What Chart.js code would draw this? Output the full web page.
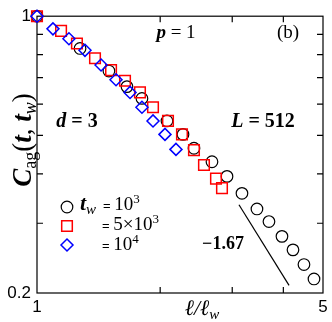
<!DOCTYPE html>
<html>
<head>
<meta charset="utf-8">
<script src="https://cdn.jsdelivr.net/npm/chart.js@4/dist/chart.umd.min.js"></script>
<style>
  html, body { margin: 0; padding: 0; background: #fff; }
</style>
</head>
<body>
<canvas id="myChart" width="332" height="322"></canvas>
<script>
// t_w = 10^3 (black circles)
const circX = [1, 1.274, 1.499, 1.659, 1.805, 2.078, 2.274, 2.419, 2.677, 2.913, 3.169, 3.448, 3.689, 3.969, 4.223, 4.492, 4.753];
const circY = [1, 0.829, 0.727, 0.664, 0.620, 0.544, 0.503, 0.464, 0.429, 0.394, 0.357, 0.326, 0.303, 0.278, 0.257, 0.236, 0.217];
// t_w = 5x10^3 (red squares)
const sqX = [1, 1.145, 1.252, 1.386, 1.517, 1.641, 1.785, 1.921, 2.090, 2.261, 2.419, 2.559, 2.738, 2.832];
const sqY = [1, 0.918, 0.853, 0.783, 0.731, 0.687, 0.642, 0.589, 0.544, 0.503, 0.459, 0.421, 0.389, 0.368];
// t_w = 10^4 (blue diamonds)
const dmX = [1, 1.094, 1.197, 1.310, 1.434, 1.560, 1.688, 1.805, 1.921, 2.055, 2.186];
const dmY = [1, 0.929, 0.877, 0.820, 0.753, 0.691, 0.642, 0.589, 0.544, 0.503, 0.461];
// guide line, slope -1.67
const slopeX = [3.116, 4.13];
const slopeY = [0.334, 0.209];

const xTicks = [1, 2, 3, 4, 5];
const xTickLabels = ['1', '', '', '', '5'];
const yTicks = [0.2, 0.3, 0.4, 0.5, 0.6, 0.7, 0.8, 0.9, 1];
const yTickLabels = ['0.2', '', '', '', '', '', '', '', '1'];

const pts = (xs, ys) => xs.map((v, i) => ({ x: v, y: ys[i] }));

const SERIF = '"Liberation Serif", "DejaVu Serif", serif';
const SANS = '"Liberation Sans", Arial, sans-serif';

function rich(ctx, parts, x, y, align) {
    let w = 0;
    parts.forEach(p => { ctx.font = p.f; p.w = ctx.measureText(p.t).width; w += p.w; });
    let cx = align === 'center' ? x - w / 2 : x;
    ctx.textAlign = 'left';
    ctx.textBaseline = 'alphabetic';
    parts.forEach(p => { ctx.font = p.f; ctx.fillText(p.t, cx, y + (p.dy || 0)); cx += p.w; });
}

function marker(ctx, style, r, color, lw, x, y) {
    ctx.save();
    ctx.strokeStyle = color;
    ctx.fillStyle = 'rgba(0,0,0,0)';
    ctx.lineWidth = lw;
    Chart.helpers.drawPoint(ctx, { pointStyle: style, radius: r, rotation: 0, borderWidth: lw }, x, y);
    ctx.restore();
}

const frame = {
    id: 'frame',
    beforeDatasetsDraw(chart) {
        const { ctx, chartArea: a, scales: { x, y } } = chart;
        ctx.save();
        ctx.strokeStyle = '#000';
        ctx.lineWidth = 1.2;
        ctx.strokeRect(a.left, a.top, a.right - a.left, a.bottom - a.top);
        ctx.beginPath();
        xTicks.slice(1, -1).forEach(v => {
            const px = x.getPixelForValue(v);
            ctx.moveTo(px, a.bottom); ctx.lineTo(px, a.bottom - 6);
            ctx.moveTo(px, a.top); ctx.lineTo(px, a.top + 6);
        });
        yTicks.slice(1, -1).forEach(v => {
            const py = y.getPixelForValue(v);
            ctx.moveTo(a.left, py); ctx.lineTo(a.left + 6, py);
            ctx.moveTo(a.right, py); ctx.lineTo(a.right - 6, py);
        });
        ctx.stroke();
        ctx.restore();
    },
    afterDraw(chart) {
        const ctx = chart.ctx;
        ctx.save();
        ctx.fillStyle = '#000';

        // panel texts
        rich(ctx, [{ t: 'p', f: 'bold italic 19px ' + SERIF }, { t: ' = 1', f: '19px ' + SERIF }], 176, 38, 'center');
        rich(ctx, [{ t: '(b)', f: '19px ' + SERIF }], 288, 38, 'center');
        rich(ctx, [{ t: 'd', f: 'bold italic 20px ' + SERIF }, { t: ' = 3', f: 'bold 20px ' + SERIF }], 77, 127, 'center');
        rich(ctx, [{ t: 'L', f: 'bold italic 20px ' + SERIF }, { t: ' = 512', f: 'bold 20px ' + SERIF }], 263, 127, 'center');
        rich(ctx, [{ t: '\u22121.67', f: 'bold 18px ' + SERIF }], 223, 249, 'center');

        // x title
        rich(ctx, [
            { t: '\u2113/\u2113', f: 'italic 22px ' + SERIF },
            { t: 'w', f: 'italic 15px ' + SERIF, dy: 4 }
        ], 202, 315, 'center');

        // y title
        ctx.save();
        ctx.translate(31, 140);
        ctx.rotate(-Math.PI / 2);
        rich(ctx, [
            { t: 'C', f: 'bold italic 27px ' + SERIF },
            { t: 'ag', f: '18px ' + SERIF, dy: 5 },
            { t: '(', f: '27px ' + SERIF },
            { t: 't', f: 'bold italic 27px ' + SERIF },
            { t: ', ', f: '27px ' + SERIF },
            { t: 't', f: 'bold italic 27px ' + SERIF },
            { t: 'w', f: 'italic 18px ' + SERIF, dy: 5 },
            { t: ')', f: '27px ' + SERIF }
        ], 0, 0, 'center');
        ctx.restore();

        // legend
        marker(ctx, 'circle', 5.8, '#000', 1.2, 67, 207);
        marker(ctx, 'rect', 7.5, 'rgb(255,0,0)', 1.5, 67, 226);
        marker(ctx, 'rectRot', 6, 'rgb(0,0,255)', 1.5, 67, 245);
        rich(ctx, [
            { t: 't', f: 'bold italic 22px ' + SERIF },
            { t: 'w', f: 'italic 15px ' + SERIF, dy: 4 }
        ], 80, 210);
        rich(ctx, [
            { t: '= ', f: '13px ' + SANS },
            { t: '10', f: '19px ' + SERIF },
            { t: '3', f: '13px ' + SERIF, dy: -7 }
        ], 103, 210);
        rich(ctx, [
            { t: '= ', f: '13px ' + SANS },
            { t: '5\u00d710', f: '19px ' + SERIF },
            { t: '3', f: '13px ' + SERIF, dy: -7 }
        ], 102, 230);
        rich(ctx, [
            { t: '= ', f: '13px ' + SANS },
            { t: '10', f: '19px ' + SERIF },
            { t: '4', f: '13px ' + SERIF, dy: -7 }
        ], 102, 250);
        ctx.restore();
    }
};

var ctx = document.getElementById('myChart').getContext('2d');

new Chart(ctx, {
    type: 'scatter',
    data: {
        datasets: [{
            label: 'tw=1e4',
            data: pts(dmX, dmY),
            pointStyle: 'rectRot',
            pointRadius: 6,
            borderColor: 'rgb(0,0,255)',
            backgroundColor: 'rgba(0,0,0,0)',
            borderWidth: 1.5,
            clip: false,
            order: 0
        }, {
            label: 'tw=5e3',
            data: pts(sqX, sqY),
            pointStyle: 'rect',
            pointRadius: 7.5,
            borderColor: 'rgb(255,0,0)',
            backgroundColor: 'rgba(0,0,0,0)',
            borderWidth: 1.5,
            clip: false,
            order: 1
        }, {
            label: 'tw=1e3',
            data: pts(circX, circY),
            pointStyle: 'circle',
            pointRadius: 5.8,
            borderColor: '#000',
            backgroundColor: 'rgba(0,0,0,0)',
            borderWidth: 1.2,
            clip: false,
            order: 2
        }, {
            type: 'line',
            label: 'slope',
            data: pts(slopeX, slopeY),
            borderColor: '#000',
            borderWidth: 1.2,
            pointRadius: 0,
            fill: false,
            order: 3
        }]
    },
    options: {
        responsive: false,
        animation: false,
        events: [],
        layout: { padding: { top: 10, right: 9, left: 0, bottom: 0 } },
        plugins: { legend: { display: false }, tooltip: { enabled: false } },
        scales: {
            x: {
                type: 'logarithmic',
                min: 1,
                max: 5,
                grid: { display: false, drawTicks: false },
                border: { display: false },
                afterBuildTicks: s => { s.ticks = xTicks.map(v => ({ value: v })); },
                afterFit: s => { s.height = 29; },
                ticks: {
                    autoSkip: false,
                    maxRotation: 0,
                    padding: 4,
                    color: '#000',
                    font: { family: SANS, size: 17 },
                    callback: (v) => xTickLabels[xTicks.indexOf(v)] || ''
                }
            },
            y: {
                type: 'logarithmic',
                min: 0.2,
                max: 1,
                grid: { display: false, drawTicks: false },
                border: { display: false },
                afterBuildTicks: s => { s.ticks = yTicks.map(v => ({ value: v })); },
                afterFit: s => { s.width = 37; },
                ticks: {
                    autoSkip: false,
                    padding: 6,
                    color: '#000',
                    font: { family: SANS, size: 17 },
                    callback: (v) => yTickLabels[yTicks.indexOf(v)] || ''
                }
            }
        }
    },
    plugins: [frame]
});
</script>
</body>
</html>
